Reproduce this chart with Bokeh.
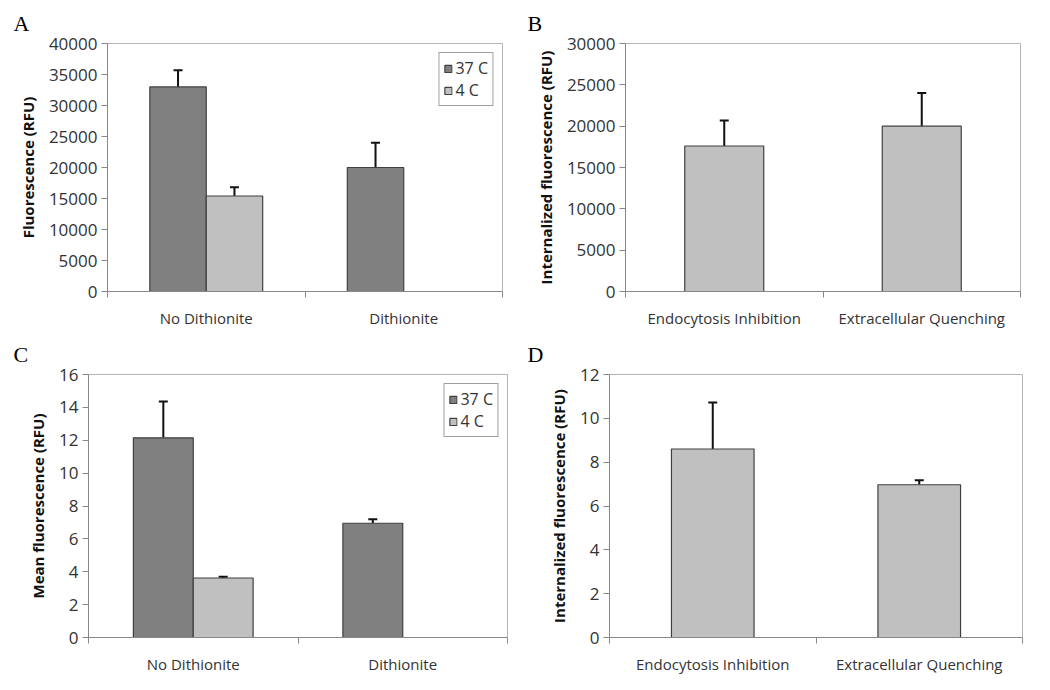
from bokeh.plotting import figure
from bokeh.models import (Range1d, FixedTicker, SingleIntervalTicker, ColumnDataSource,
                          Whisker, TeeHead)
from bokeh.layouts import column, row
from bokeh.embed import file_html
from bokeh.resources import INLINE

# ---------------- data ----------------
cats_ac = ["No Dithionite", "Dithionite"]
cats_bd = ["Endocytosis Inhibition", "Extracellular Quenching"]
series_names = ["37 C", "4 C"]

a_37 = [33000, 20000]
a_37_err = [2700, 4000]
a_4 = [15400, None]
a_4_err = [1400, None]

b_vals = [17600, 20000]
b_err = [3100, 4000]

c_37 = [12.15, 6.95]
c_37_err = [2.2, 0.25]
c_4 = [3.62, None]
c_4_err = [0.08, None]

d_vals = [8.6, 6.97]
d_err = [2.12, 0.2]

DARK = "#808080"
LIGHT = "#c0c0c0"
EDGE = "#404040"
AXIS = "#888888"
FONT = "Open Sans"


def make_panel(letter, letter_x, cats, vals_list, errs_list, colors, names, ymax, ystep, ylabel,
               width, height, bl, br, bt, bb):
    p = figure(width=width, height=height, output_backend="svg", toolbar_location=None,
               x_range=Range1d(0, len(cats)), y_range=Range1d(0, ymax),
               min_border_left=bl, min_border_right=br, min_border_top=bt, min_border_bottom=bb)
    p.outline_line_color = "#b4b4b4"
    p.xgrid.visible = False
    p.ygrid.visible = False
    p.background_fill_color = "white"

    n = len(vals_list)
    bw = 1.0 / (n + 1.5)
    for s, (vals, errs, col) in enumerate(zip(vals_list, errs_list, colors)):
        xs, tops, ups = [], [], []
        for i, (v, e) in enumerate(zip(vals, errs)):
            if v is None:
                continue
            xs.append(i + 0.5 + (s - (n - 1) / 2) * bw)
            tops.append(v)
            ups.append(v + e)
        src = ColumnDataSource(dict(x=xs, top=tops, up=ups))
        kw = {}
        if names is not None:
            kw["legend_label"] = names[s]
        p.vbar(x="x", top="top", width=bw, source=src, fill_color=col,
               line_color=EDGE, line_width=1.2, **kw)
        w = Whisker(base="x", lower="top", upper="up", source=src, line_color="#111111",
                    line_width=2, lower_head=None,
                    upper_head=TeeHead(size=9, line_color="#111111", line_width=2))
        p.add_layout(w)

    # x axis
    xa = p.xaxis[0]
    xa.ticker = FixedTicker(ticks=[i + 0.5 for i in range(len(cats))],
                            minor_ticks=list(range(len(cats) + 1)))
    xa.major_label_overrides = {i + 0.5: c for i, c in enumerate(cats)}
    xa.major_tick_line_color = None
    xa.major_tick_out = 0
    xa.major_tick_in = 0
    xa.minor_tick_line_color = AXIS
    xa.minor_tick_out = 6
    xa.minor_tick_in = 0
    xa.axis_line_color = AXIS
    xa.major_label_standoff = 10
    xa.major_label_text_font = FONT
    xa.major_label_text_font_size = "15px"
    xa.major_label_text_color = "#333333"

    # y axis
    ya = p.yaxis[0]
    ya.ticker = SingleIntervalTicker(interval=ystep, num_minor_ticks=0)
    ya.axis_line_color = AXIS
    ya.major_tick_line_color = AXIS
    ya.major_tick_out = 6
    ya.major_tick_in = 0
    ya.minor_tick_line_color = None
    ya.major_label_text_font = FONT
    ya.major_label_text_font_size = "17px"
    ya.major_label_text_color = "#333333"
    ya.major_label_standoff = 4
    ya.axis_label = ylabel
    ya.axis_label_text_font = FONT
    ya.axis_label_text_font_size = "15px"
    ya.axis_label_text_font_style = "bold"
    ya.axis_label_text_color = "#111111"
    ya.axis_label_standoff = 8

    # panel letter
    p.title.text = letter
    p.title.text_font = "Liberation Serif"
    p.title.text_font_size = "22px"
    p.title.text_font_style = "normal"
    p.title.text_color = "#000000"
    p.title.align = "left"
    p.title.offset = -(bl - letter_x)
    p.title.standoff = 15

    if names is not None:
        lg = p.legend[0]
        lg.location = "top_right"
        lg.margin = 9
        lg.padding = 4
        lg.spacing = 0
        lg.border_line_color = EDGE
        lg.border_line_width = 1.2
        lg.label_text_font = FONT
        lg.label_text_font_size = "16px"
        lg.label_text_color = "#333333"
        lg.glyph_width = 9
        lg.glyph_height = 9
        lg.label_standoff = 3
        lg.label_height = 21
    return p


pA = make_panel("A", 13, cats_ac, [a_37, a_4], [a_37_err, a_4_err], [DARK, LIGHT], series_names,
                40000, 5000, "Fluorescence (RFU)", 520, 330, 107, 18, 43, 37)
pB = make_panel("B", 7, cats_bd, [b_vals], [b_err], [LIGHT], None,
                30000, 5000, "Internalized fluorescence (RFU)", 530, 330, 105, 30, 42, 36)
pC = make_panel("C", 13, cats_ac, [c_37, c_4], [c_37_err, c_4_err], [DARK, LIGHT], series_names,
                16, 2, "Mean fluorescence (RFU)", 520, 360, 88, 13, 44, 52)
pD = make_panel("D", 7, cats_bd, [d_vals], [d_err], [LIGHT], None,
                12, 2, "Internalized fluorescence (RFU)", 530, 360, 89, 28, 43, 53)

layout = column(row(pA, pB, spacing=0), row(pC, pD, spacing=0), spacing=0)
open("out.html", "w").write(file_html(layout, INLINE))
